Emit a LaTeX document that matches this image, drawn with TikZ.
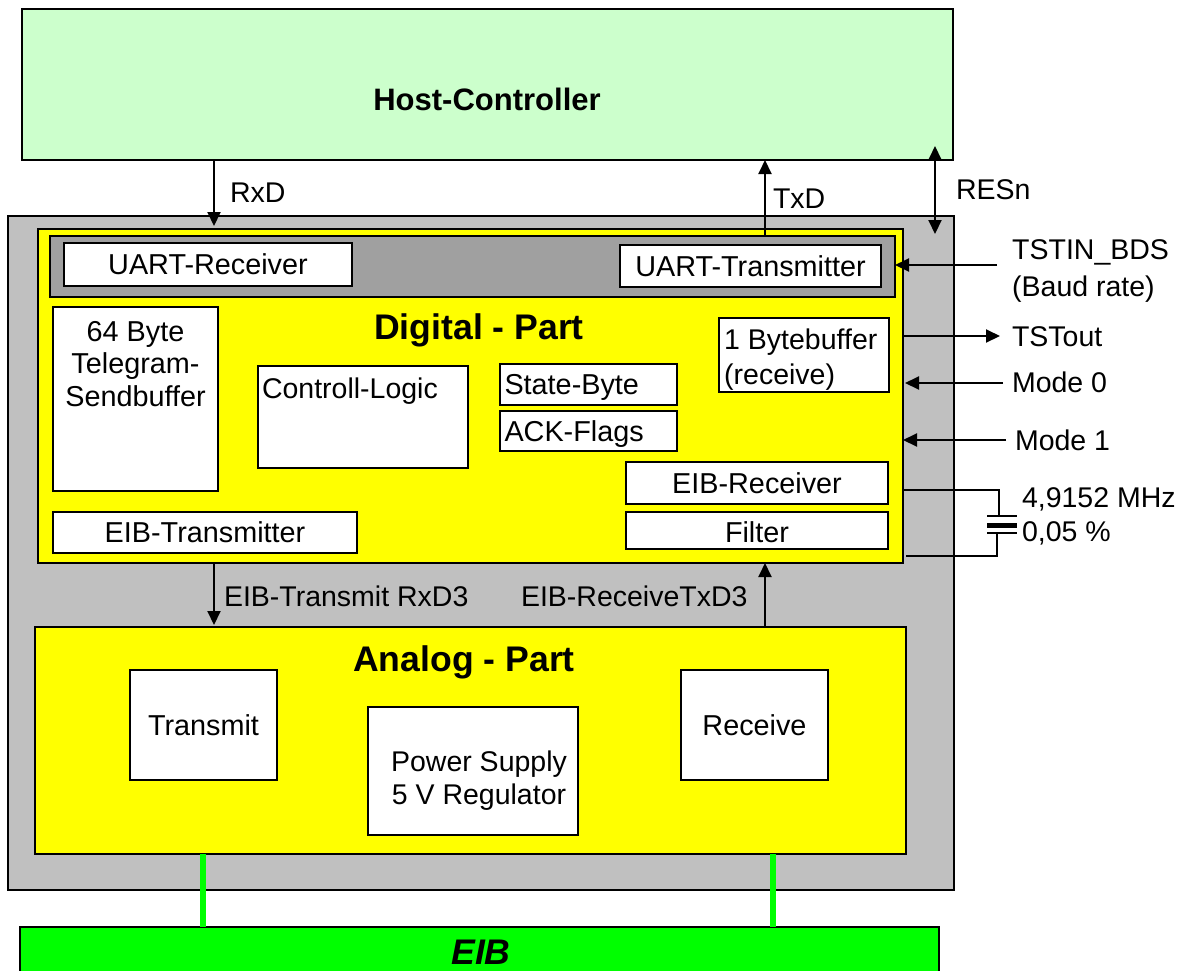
\documentclass[tikz,border=0pt]{standalone}
\usepackage{fontspec}
\setmainfont{Liberation Sans}
\usetikzlibrary{arrows.meta}
\definecolor{hostgreen}{HTML}{CCFFCC}
\definecolor{chipgray}{HTML}{C0C0C0}
\definecolor{uartgray}{HTML}{A0A0A0}
\definecolor{partyellow}{HTML}{FFFF00}
\definecolor{eibgreen}{HTML}{00FF00}
\tikzset{
  block/.style={draw=black, line width=2.5pt, inner sep=0pt, outer sep=0pt, font=\fontsize{28.8}{33}\selectfont},
  whitebox/.style={block, fill=white},
  oneline/.style={text height=20pt, text depth=0pt},
  txt/.style={inner sep=0pt, outer sep=0pt, font=\fontsize{28.5}{33}\selectfont, oneline},
  txtleft/.style={txt, anchor=west},
  sig/.style={line width=2pt, -{Triangle[length=14pt,width=13pt]}},
  sigboth/.style={line width=2pt, {Triangle[length=14pt,width=13pt]}-{Triangle[length=14pt,width=13pt]}},
  wire/.style={line width=2.2pt},
  plate/.style={line width=2pt},
  eibline/.style={line width=6pt, eibgreen}
}
\begin{document}
\begin{tikzpicture}[x=1pt, y=-1pt]
  \useasboundingbox (0, 0) rectangle (1184, 970);
  \clip (0, 0) rectangle (1184, 970);

  % host and chip
  \node[block, fill=hostgreen, minimum width=931pt, minimum height=151pt] (host) at (487.5, 84.5) {};
  \node[txt, font=\fontsize{31}{35}\selectfont\bfseries] (hosttext) at (487, 100) {Host-Controller};
  \node[block, fill=chipgray, minimum width=946pt, minimum height=674pt] (chip) at (481, 553) {};

  % digital part
  \node[block, fill=partyellow, minimum width=865pt, minimum height=334pt] (digital) at (470.5, 396) {};
  \node[block, fill=uartgray, minimum width=845pt, minimum height=61pt] (uart) at (472.5, 266.5) {};
  \node[whitebox, oneline, minimum width=288pt, minimum height=43pt] (uartrx) at (208, 264.5) {UART-Receiver};
  \node[whitebox, oneline, minimum width=261pt, minimum height=42pt] (uarttx) at (750.5, 266) {UART-Transmitter};
  \node[txt, font=\fontsize{35.6}{40}\selectfont\bfseries] (digitaltext) at (479, 329) {Digital - Part};

  \node[whitebox, minimum width=165pt, minimum height=184pt] (sendbuf) at (135.5, 399) {};
  \node[inner sep=0pt, align=center, font=\fontsize{28.8}{32.5}\selectfont] (sendbuftext) at (135.5, 364) {64 Byte\\Telegram-\\Sendbuffer};
  \node[whitebox, minimum width=210pt, minimum height=102pt] (logic) at (363, 417) {};
  \node[txtleft] (logictext) at (262, 388) {Controll-Logic};
  \node[whitebox, oneline, minimum height=41pt, text width=168pt, inner sep=4.5pt, align=left] (state) at (588.5, 384.5) {State-Byte};
  \node[whitebox, oneline, minimum height=40pt, text width=168pt, inner sep=4.5pt, align=left] (ack) at (588.5, 431) {ACK-Flags};
  \node[whitebox, minimum width=170pt, minimum height=74pt] (bytebuf) at (804, 355) {};
  \node[inner sep=0pt, align=left, anchor=west, font=\fontsize{28.5}{35}\selectfont] (bytebuftext) at (724, 360) {1 Bytebuffer\\(receive)};
  \node[whitebox, oneline, minimum width=262pt, minimum height=42pt] (eibrx) at (757, 483) {EIB-Receiver};
  \node[whitebox, text height=24pt, text depth=0pt, minimum width=262pt, minimum height=37pt] (filter) at (757, 530.5) {Filter};
  \node[whitebox, oneline, minimum width=304pt, minimum height=41pt] (eibtx) at (205, 532.5) {EIB-Transmitter};

  % analog part
  \node[block, fill=partyellow, minimum width=871pt, minimum height=227pt] (analog) at (470.5, 740.5) {};
  \node[txt, font=\fontsize{35.6}{40}\selectfont\bfseries] (analogtext) at (464, 661) {Analog - Part};
  \node[whitebox, oneline, minimum width=147pt, minimum height=110pt] (transmit) at (203.5, 725) {Transmit};
  \node[whitebox, oneline, minimum width=147pt, minimum height=110pt] (receive) at (754.5, 725) {Receive};
  \node[whitebox, minimum width=210pt, minimum height=128pt] (power) at (473, 771) {};
  \node[inner sep=0pt, align=center, font=\fontsize{28.5}{33}\selectfont] (powertext) at (479, 781) {Power Supply\\5 V Regulator};

  % EIB bus
  \node[block, fill=eibgreen, minimum width=919pt, minimum height=52pt] (eib) at (479.5, 953) {};
  \node[txt, font=\fontsize{35.6}{40}\selectfont\bfseries\itshape] (eibtext) at (481, 954) {EIB};
  \coordinate (busleft) at (203, 0);
  \coordinate (busright) at (773, 0);
  \draw[eibline] (analog.south -| busleft) -- (eib.north -| busleft);
  \draw[eibline] (analog.south -| busright) -- (eib.north -| busright);

  % host lines
  \coordinate (rxdpos) at (214, 0);
  \coordinate (txdpos) at (765, 0);
  \coordinate (resntop) at (935, 146);
  \coordinate (resnbottom) at (935, 234);
  \draw[sig, shorten >=3pt] (host.south -| rxdpos) -- (digital.north -| rxdpos);
  \draw[sig] (uart.north -| txdpos) -- (host.south -| txdpos);
  \draw[sigboth] (resntop) -- (resnbottom);
  \node[txtleft] (rxdtext) at (230, 192) {RxD};
  \node[txtleft] (txdtext) at (773, 198) {TxD};
  \node[txtleft] (resntext) at (956, 189) {RESn};

  % lines between the parts
  \draw[sig, shorten >=2pt] (digital.south -| rxdpos) -- (analog.north -| rxdpos);
  \draw[sig] (analog.north -| txdpos) -- (digital.south -| txdpos);
  \node[txtleft] (eibtxtext) at (224, 596) {EIB-Transmit RxD3};
  \node[txtleft] (eibrxtext) at (521, 596) {EIB-ReceiveTxD3};

  % pins on the right
  \coordinate (tstinpos) at (997, 265);
  \coordinate (tstoutpos) at (1000, 336);
  \coordinate (mode0pos) at (1003, 383);
  \coordinate (mode1pos) at (1006, 440);
  \draw[sig] (tstinpos) -- (uart.east |- tstinpos);
  \draw[sig] (digital.east |- tstoutpos) -- (tstoutpos);
  \draw[sig, shorten >=2pt] (mode0pos) -- (digital.east |- mode0pos);
  \draw[sig] (mode1pos) -- (digital.east |- mode1pos);
  \node[inner sep=0pt, align=left, anchor=west, font=\fontsize{28.5}{37}\selectfont] (tstintext) at (1012, 271) {TSTIN\_BDS\\(Baud rate)};
  \node[txtleft] (tstouttext) at (1012, 336) {TSTout};
  \node[txtleft] (mode0text) at (1012, 382) {Mode 0};
  \node[txtleft] (mode1text) at (1015, 440) {Mode 1};

  % quartz
  \coordinate (quartztop) at (999, 490);
  \coordinate (platea) at (999, 516);
  \coordinate (plateb) at (997, 533);
  \coordinate (quartzbottom) at (997, 556);
  \coordinate (quartzend) at (906, 556);
  \coordinate (platemid) at (1002, 525);
  \draw[wire] (digital.east |- quartztop) -- (quartztop) -- (platea);
  \draw[wire] (plateb) -- (quartzbottom) -- (quartzend);
  \draw[plate] ([xshift=-15pt]platemid |- platea) -- ([xshift=15pt]platemid |- platea);
  \draw[line width=5pt] ([xshift=-15pt]platemid) -- ([xshift=15pt]platemid);
  \draw[plate] ([xshift=-15pt]platemid |- plateb) -- ([xshift=15pt]platemid |- plateb);
  \node[txtleft] (quartztext) at (1022, 497) {4,9152 MHz};
  \node[txtleft] (tolerancetext) at (1022, 531) {0,05 \%};
\end{tikzpicture}
\end{document}
